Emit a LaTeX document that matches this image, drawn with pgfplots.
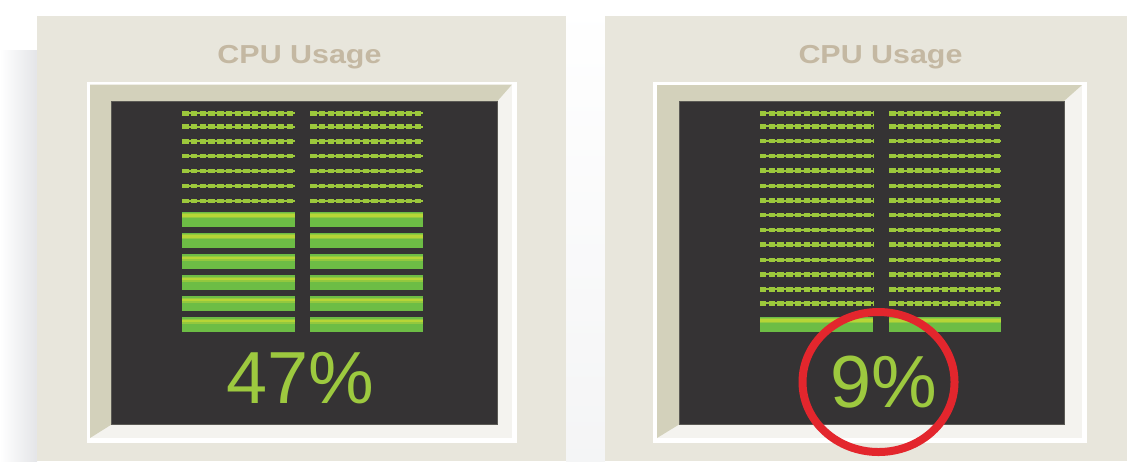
\documentclass[border=0pt]{standalone}
\usepackage{pgfplots}
\pgfplotsset{compat=1.18}
\usepackage{graphicx}
\usepackage{fontspec}
\setmainfont{Liberation Sans}

\definecolor{panel}{HTML}{E8E6DC}
\definecolor{bevdark}{HTML}{D3D1BB}
\definecolor{bevlight}{HTML}{F4F3EF}
\definecolor{screen}{HTML}{353334}
\definecolor{scredge}{HTML}{5B5A55}
\definecolor{titlec}{HTML}{C4B8A2}
\definecolor{gdash}{HTML}{9CC83C}
\definecolor{gbar}{HTML}{6DBD45}
\definecolor{gmid}{HTML}{93C83E}
\definecolor{gstripe}{HTML}{B6D536}
\definecolor{digit}{HTML}{9DC93F}
\definecolor{ring}{HTML}{E3262D}
\definecolor{bgg}{HTML}{E4E5E8}

\pgfplotsset{
  thinrow/.style={draw=gdash, line width=0.18mm, no markers, forget plot},
  dashrow/.style={draw=gdash, line width=0.45mm, dash pattern=on 0.64mm off 0.23mm, no markers, forget plot},
  solidrow/.style={draw=gbar, line width=1.5mm, no markers, forget plot},
  midrow/.style={draw=gmid, line width=0.5mm, no markers, forget plot, y filter/.expression={y-3.5}},
  striperow/.style={draw=gstripe, line width=0.22mm, no markers, forget plot, y filter/.expression={y-3.8}},
}

\begin{document}
\begin{tikzpicture}
\begin{axis}[at={(0,0)}, anchor=south west, scale only axis,
  width=112.7mm, height=46.1mm,
  xmin=0, xmax=1127, ymin=0, ymax=461, y dir=reverse,
  hide axis, clip=true]

% background
\fill[white] (0,0) rectangle (1127,461);
\fill[left color=white, right color=bgg] (0,50) rectangle (37,461);
\fill[top color=white, bottom color=white!60!bgg] (566,0) rectangle (605,461);

% panels
\fill[panel] (37,16) rectangle (566,461);
\fill[panel] (605,16) rectangle (1127,461);

% left frame
\fill[white] (87,82) rectangle (517,443);
\fill[bevlight] (90,84.5) rectangle (512,438);
\fill[bevdark] (90,84.5) -- (512,84.5) -- (497.5,101) -- (111.5,101) -- (111.5,424.5) -- (90,438) -- cycle;
\filldraw[fill=screen, draw=scredge, line width=0.1mm] (111.5,101) rectangle (497.5,424.5);

% right frame
\fill[white] (653,82) rectangle (1087,443);
\fill[bevlight] (657,85) rectangle (1082,438);
\fill[bevdark] (657,85) -- (1082,85) -- (1064,101) -- (679,101) -- (679,424.5) -- (657,438) -- cycle;
\filldraw[fill=screen, draw=scredge, line width=0.1mm] (679,101) rectangle (1064,424.5);

% ---- left gauge: 47% ----
% unlit rows (y positions)
\pgfplotsinvokeforeach{113.3,126.7,141.3,156,171,186,201}{
  \addplot[thinrow] coordinates {(182.3,#1) (295,#1)};
  \addplot[dashrow] coordinates {(182.3,#1) (295,#1)};
  \addplot[thinrow] coordinates {(310.3,#1) (422.7,#1)};
  \addplot[dashrow] coordinates {(310.3,#1) (422.7,#1)};
}
% lit rows
\pgfplotsinvokeforeach{219.2,240.2,261.5,282.5,303.5,324.7}{
  \addplot[solidrow] coordinates {(182.3,#1) (295,#1)};
  \addplot[solidrow] coordinates {(310.3,#1) (422.7,#1)};
  \addplot[midrow] coordinates {(182.3,#1) (295,#1)};
  \addplot[midrow] coordinates {(310.3,#1) (422.7,#1)};
  \addplot[striperow] coordinates {(182.3,#1) (295,#1)};
  \addplot[striperow] coordinates {(310.3,#1) (422.7,#1)};
}

% ---- right gauge: 9% ----
\pgfplotsinvokeforeach{113.3,126.3,141,156,170.7,186,200.7,215,230,244.7,260,274.3,289.3,303.3}{
  \addplot[thinrow] coordinates {(760,#1) (873.3,#1)};
  \addplot[dashrow] coordinates {(760,#1) (873.3,#1)};
  \addplot[thinrow] coordinates {(889.3,#1) (1001,#1)};
  \addplot[dashrow] coordinates {(889.3,#1) (1001,#1)};
}
\pgfplotsinvokeforeach{324.2}{
  \addplot[solidrow] coordinates {(760,#1) (873.3,#1)};
  \addplot[solidrow] coordinates {(889.3,#1) (1001,#1)};
  \addplot[midrow] coordinates {(760,#1) (873.3,#1)};
  \addplot[midrow] coordinates {(889.3,#1) (1001,#1)};
  \addplot[striperow] coordinates {(760,#1) (873.3,#1)};
  \addplot[striperow] coordinates {(889.3,#1) (1001,#1)};
}

% titles
\node[anchor=base, text=titlec, font=\fontsize{7.4}{8}\selectfont\bfseries] at (299.5,63) {\scalebox{1.17}[1]{CPU Usage}};
\node[anchor=base, text=titlec, font=\fontsize{7.4}{8}\selectfont\bfseries] at (880.5,63) {\scalebox{1.17}[1]{CPU Usage}};

% values
\node[anchor=base, text=digit, font=\fontsize{21}{24}\selectfont, inner sep=0pt] at (300,403) {47\%};
\node[anchor=base, text=digit, font=\fontsize{21}{24}\selectfont, inner sep=0pt] at (884,407) {9\%};

% highlight ring
\draw[draw=ring, line width=0.8mm] (878.5,382) ellipse [x radius=7.6mm, y radius=7.0mm];

\end{axis}
\pgfresetboundingbox
\path (current axis.south west) rectangle (current axis.north east);
\end{tikzpicture}
\end{document}
